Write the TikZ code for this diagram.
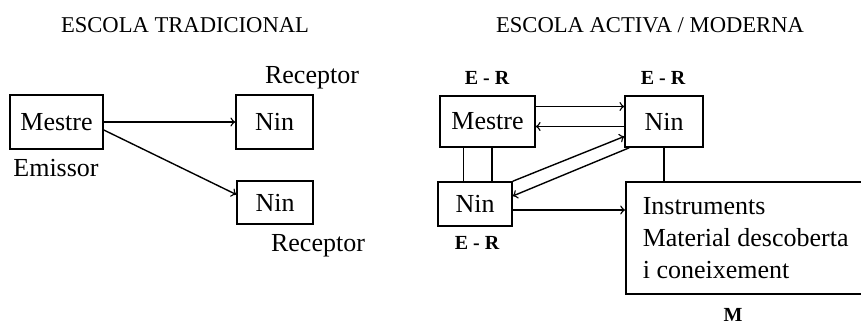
\documentclass[tikz,border=0pt]{standalone}
\usepackage{fontspec}
\setmainfont{Liberation Serif}
\usepackage{tikz}
\usepackage{xcolor}

\begin{document}
\begin{tikzpicture}[x=0.5pt, y=-0.5pt,
  caixa/.style={draw, line width=0.8pt, inner sep=0pt, minimum height=27pt, font=\fontsize{13}{16}\selectfont},
  titol/.style={font=\fontsize{11.3}{13}\selectfont},
  etiq/.style={font=\fontsize{13}{16}\selectfont},
  er/.style={font=\fontsize{10}{12}\selectfont\bfseries},
  fletxa/.style={->, line width=0.7pt},
  linia/.style={line width=0.8pt}]
\useasboundingbox (0,0) rectangle (861,326);
\node[titol] (tradicional) at (185,25) {ESCOLA TRADICIONAL};
\node[caixa, minimum width=46.5pt] (mestreA) at (56.5,122) {Mestre};
\node[etiq] (emissor) at (56,168) {Emissor};
\node[caixa, minimum width=38.5pt] (ninA) at (274.5,122) {Nin};
\node[etiq] (receptorA) at (312,78) {Receptor};
\node[caixa, minimum width=38pt, minimum height=21.5pt] (ninB) at (275,202.5) {Nin};
\node[etiq] (receptorB) at (318,246) {Receptor};
\draw[fletxa] (mestreA.east) -- (ninA.west);
\draw[fletxa] ([yshift=-4pt]mestreA.east) -- ([yshift=4pt]ninB.west);
\node[titol] (activa) at (650,25) {ESCOLA ACTIVA / MODERNA};
\node[caixa, minimum width=47.5pt, minimum height=25.5pt] (mestreB) at (487.5,121.5) {Mestre};
\node[er] (erM) at (487,78) {E - R};
\node[caixa, minimum width=39pt, minimum height=25.5pt] (ninC) at (664,121.5) {Nin};
\node[er] (erC) at (663,78) {E - R};
\node[caixa, minimum width=37pt, minimum height=22pt] (ninD) at (475,204) {Nin};
\node[er] (erD) at (477,243) {E - R};
\node[caixa, anchor=west, minimum width=118pt, minimum height=56pt, inner xsep=8.5pt, align=left] (instr) at (625,238) {Instruments\\Material descoberta\\i coneixement};
\node[er] (mitja) at (733,315) {M};
\draw[fletxa] ([yshift=7.5pt]mestreB.east) -- ([yshift=7.5pt]ninC.west);
\draw[fletxa] ([yshift=-2.5pt]ninC.west) -- ([yshift=-2.5pt]mestreB.east);
\draw[linia] ([xshift=-12pt]mestreB.south) -- ([xshift=-12pt]mestreB.south |- ninD.north);
\draw[linia] ([xshift=2.25pt]mestreB.south) -- ([xshift=2.25pt]mestreB.south |- ninD.north);
\draw[fletxa] (ninD.north east) -- ([yshift=-7.5pt]ninC.west);
\draw[fletxa] ([xshift=2.5pt]ninC.south west) -- ([yshift=4pt]ninD.east);
\draw[linia] (ninC.south) -- (ninC.south |- instr.north);
\draw[fletxa] ([yshift=-3pt]ninD.east) -- ([yshift=-3pt]ninD.east -| instr.west);
\end{tikzpicture}
\end{document}
